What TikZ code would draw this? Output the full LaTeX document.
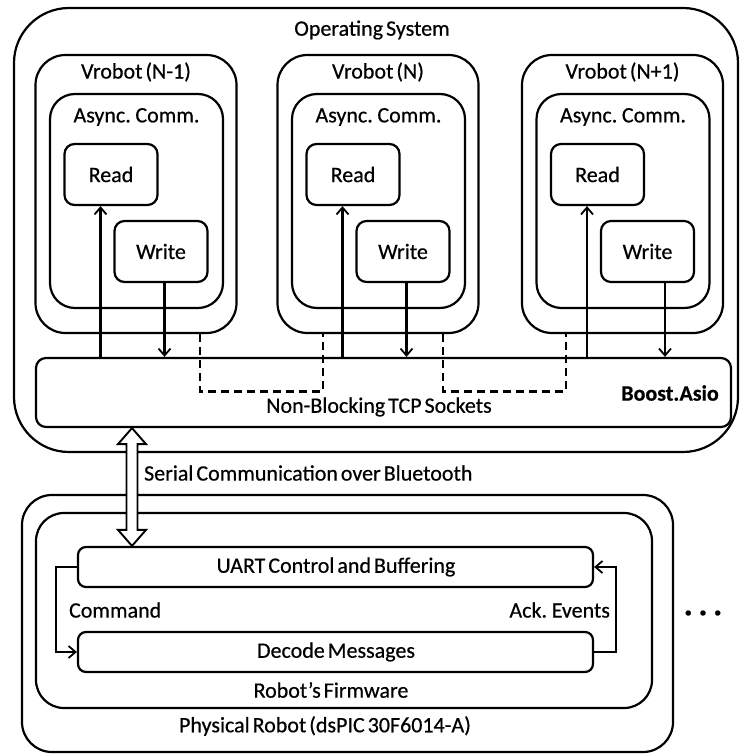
\documentclass[tikz,border=0pt]{standalone}
\usepackage{fontspec}
\setmainfont{Carlito}[WordSpace=0.6,FakeBold=0.5]
\usetikzlibrary{arrows.meta,calc}
\begin{document}
\begin{tikzpicture}[x=1pt,y=-1pt,line width=2.2pt,
  box/.style={draw,rounded corners=#1,inner sep=0pt},
  lbl/.style={inner sep=0pt,font=\fontsize{22}{25}\selectfont},
  arr/.style={-{Straight Barb[length=7pt,width=12pt,line width=1.8pt]}},
  dsh/.style={line width=2.8pt,dash pattern=on 8pt off 5pt}]
\useasboundingbox (0,0) rectangle (741,754);
% Operating system
\node[box=55pt,minimum width=724pt,minimum height=444pt] (os) at (376,230) {};
\node[lbl] (ostxt) at (372,30) {Operating System};
% Vrobots
\foreach \i/\cx/\lab in {1/136/{N-1}, 2/378/{N}, 3/622.5/{N+1}}{
  \node[box=30pt,minimum width=201pt,minimum height=278pt] (v\i) at (\cx,194) {};
  \node[lbl] (vt\i) at (\cx,72) {Vrobot (\lab)};
  \node[box=25pt,minimum width=173pt,minimum height=214pt] (a\i) at (\cx+0.5,201) {};
  \node[lbl] (at\i) at (\cx+0.5,117) {Async. Comm.};
  \node[box=10pt,minimum width=93pt,minimum height=61pt,lbl] (read\i) at (\cx-25,174.5) {Read};
  \node[box=10pt,minimum width=93pt,minimum height=61pt,lbl] (write\i) at (\cx+25,251.5) {Write};
}
% Boost box
\node[box=10pt,minimum width=695pt,minimum height=69pt] (boost) at (383.5,392.5) {};
\node[lbl,font=\fontsize{22}{25}\selectfont\bfseries] (asio) at (670,393) {Boost.Asio};
\node[lbl] (tcp) at (379,407) {Non-Blocking TCP Sockets};
% arrows Vrobot <-> Boost
\foreach \i/\o in {1/3.5, 2/3.5, 3/17.5}{
  \draw[arr] ([xshift=-10.5pt]read\i.south |- boost.north) -- ([xshift=-10.5pt]read\i.south);
  \draw[arr] ([xshift=\o pt]write\i.south) -- ([xshift=\o pt]write\i.south |- boost.north);
}
% dashed links
\draw[dsh] ([xshift=64pt]v1.south) -- ++(0,57) -| ([xshift=-55pt]v2.south);
\draw[dsh] ([xshift=65pt]v2.south) -- ++(0,57) -| ([xshift=-56.5pt]v3.south);
% Physical robot
\node[box=30pt,minimum width=651pt,minimum height=257pt] (phys) at (347.5,623.5) {};
\node[lbl] (phystxt) at (325,726) {Physical Robot (dsPIC 30F6014-A)};
\node[box=28pt,minimum width=616pt,minimum height=195pt] (fw) at (344,610.5) {};
\node[lbl] (fwtxt) at (331,690) {Robot’s Firmware};
\node[box=8pt,minimum width=515pt,minimum height=40pt] (uart) at (335.5,567) {};
\node[lbl] (uarttxt) at (336,567) {UART Control and Buffering};
\node[box=8pt,minimum width=515pt,minimum height=40pt] (decode) at (335.5,652) {};
\node[lbl] (dectxt) at (336,652) {Decode Messages};
% serial double arrow
\coordinate (dt) at ([xshift=-251.5pt]boost.south);
\coordinate (db) at (dt |- uart.north);
\draw[fill=white,line width=1.9pt,line join=miter] (dt) -- ++(14,16) -- ++(-8.5,0) -- ($(db)+(5.5,-16)$) -- ++(8.5,0) -- (db) -- ++(-14,-16) -- ++(8.5,0) -- ($(dt)+(-5.5,16)$) -- ++(-8.5,0) -- cycle;
\node[lbl,anchor=west] (serial) at (143,473) {Serial Communication over Bluetooth};
% command / ack
\draw[arr] (uart.west) -- ++(-21,0) |- (decode.west);
\draw[arr] (decode.east) -- ++(22,0) |- (uart.east);
\node[lbl,anchor=west] (cmd) at (68,610) {Command};
\node[lbl,anchor=east] (ack) at (611,610) {Ack. Events};
\node[inner sep=0pt,font=\fontsize{34}{34}\selectfont\bfseries] (dots) at (703,613) {.\,.\,.};
\end{tikzpicture}
\end{document}
